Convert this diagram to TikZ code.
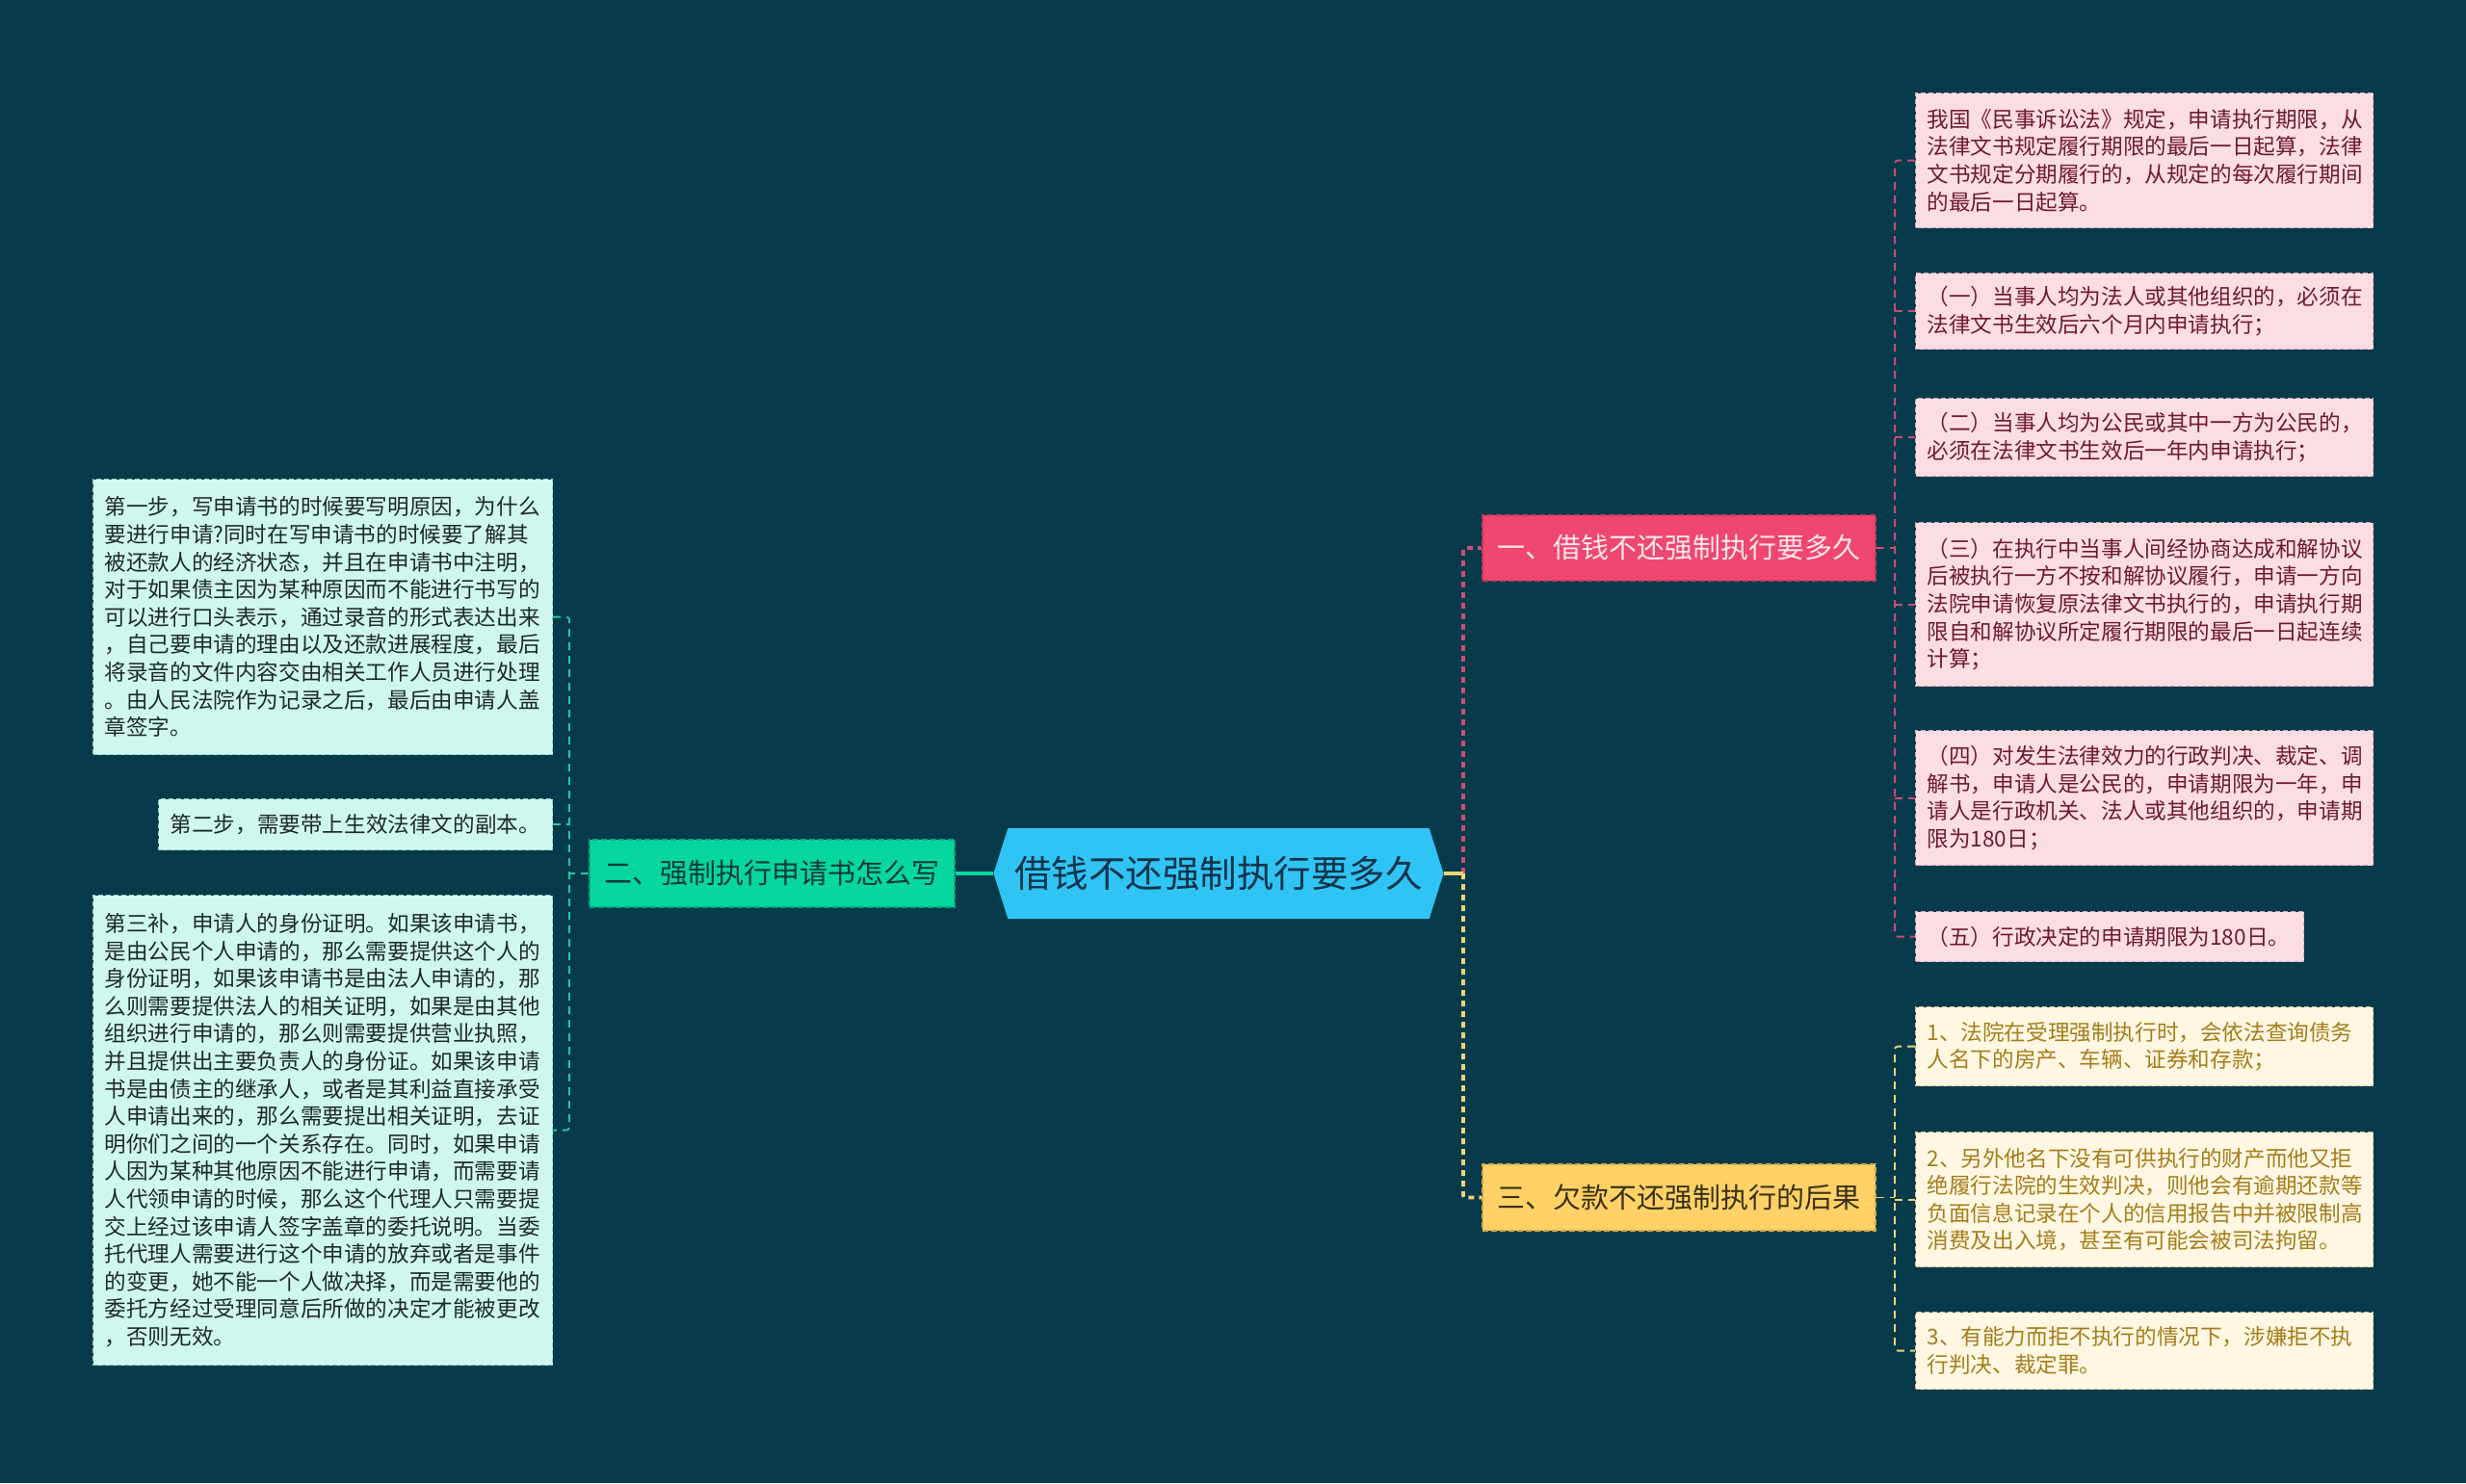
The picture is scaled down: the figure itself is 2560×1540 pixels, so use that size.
\documentclass[tikz,border=0pt]{standalone}
\usepackage{fontspec}
\newfontfamily\cjk{Noto Sans CJK SC}
\usetikzlibrary{shapes.symbols}
\definecolor{bgc}{HTML}{073B4C}
\definecolor{centerfill}{HTML}{30C4F4}
\definecolor{centertext}{HTML}{10344A}
\definecolor{pinkc}{HTML}{EF476F}
\definecolor{pinkline}{HTML}{C73A5E}
\definecolor{pinktext}{HTML}{FDE6EC}
\definecolor{yellowc}{HTML}{FFD166}
\definecolor{yellowline}{HTML}{D6A848}
\definecolor{yellowtext}{HTML}{3A3218}
\definecolor{greenc}{HTML}{06D6A0}
\definecolor{greenline}{HTML}{04A87E}
\definecolor{greentext}{HTML}{0E3A36}
\definecolor{pleaffill}{HTML}{FCDDE4}
\definecolor{pleafline}{HTML}{D9A3B1}
\definecolor{pleaftext}{HTML}{6E1A31}
\definecolor{yleaffill}{HTML}{FFF7E2}
\definecolor{yleafline}{HTML}{D8C08C}
\definecolor{yleaftext}{HTML}{A47D1C}
\definecolor{gleaffill}{HTML}{D0F7EE}
\definecolor{gleafline}{HTML}{8CCFBF}
\definecolor{gleaftext}{HTML}{1C2A2B}
\definecolor{pbus}{HTML}{CF4C76}
\definecolor{ybus}{HTML}{EED477}
\definecolor{gbus}{HTML}{22C8A0}
\tikzset{
  leaf/.style={anchor=north west, inner xsep=12pt, inner ysep=0pt, align=left,
    font=\cjk\fontsize{22.6pt}{28.6pt}\selectfont, dash pattern=on 5pt off 3pt, line width=1.2pt},
  pleaf/.style={leaf, fill=pleaffill, draw=pleafline, text=pleaftext},
  yleaf/.style={leaf, fill=yleaffill, draw=yleafline, text=yleaftext},
  gleaf/.style={leaf, fill=gleaffill, draw=gleafline, text=gleaftext},
  branch/.style={inner sep=0pt, font=\cjk\fontsize{29pt}{34pt}\selectfont,
    dash pattern=on 6pt off 3pt, line width=1.5pt, minimum height=68pt},
  mainbus/.style={line width=3.6pt, dash pattern=on 6pt off 5pt, rounded corners=2pt},
  leafbus/.style={line width=1.8pt, dash pattern=on 8pt off 6pt, rounded corners=3pt},
}
\begin{document}
\begin{tikzpicture}[x=1pt,y=-1pt]
\fill[bgc] (0,0) rectangle (2560,1540);

% central node
\node[signal, signal to=east and west, signal pointer angle=145, fill=centerfill,
  minimum width=467pt, minimum height=94pt, inner sep=0pt, text=centertext,
  font=\cjk\fontsize{38.5pt}{44pt}\selectfont] (c) at (1265,907) {借钱不还强制执行要多久};

% branch nodes
\node[branch, fill=pinkc, draw=pinkline, text=pinktext, minimum width=408pt] (p) at (1743,569) {一、借钱不还强制执行要多久};
\node[branch, fill=yellowc, draw=yellowline, text=yellowtext, minimum width=408pt, minimum height=69pt] (y) at (1743,1243.5) {三、欠款不还强制执行的后果};
\node[branch, fill=greenc, draw=greenline, text=greentext, minimum width=379pt, minimum height=70pt] (g) at (801.5,907) {二、强制执行申请书怎么写};

% right pink leaves
\node[pleaf, minimum width=475pt, minimum height=140pt, text width=451pt] (P1) at (1988,96)
 {我国《民事诉讼法》规定，申请执行期限，从\\法律文书规定履行期限的最后一日起算，法律\\文书规定分期履行的，从规定的每次履行期间\\的最后一日起算。};
\node[pleaf, minimum width=475pt, minimum height=79pt, text width=451pt] (P2) at (1988,283)
 {（一）当事人均为法人或其他组织的，必须在\\法律文书生效后六个月内申请执行；};
\node[pleaf, minimum width=475pt, minimum height=81pt, text width=451pt] (P3) at (1988,413)
 {（二）当事人均为公民或其中一方为公民的，\\必须在法律文书生效后一年内申请执行；};
\node[pleaf, minimum width=475pt, minimum height=170pt, text width=451pt] (P4) at (1988,542)
 {（三）在执行中当事人间经协商达成和解协议\\后被执行一方不按和解协议履行，申请一方向\\法院申请恢复原法律文书执行的，申请执行期\\限自和解协议所定履行期限的最后一日起连续\\计算；};
\node[pleaf, minimum width=475pt, minimum height=140pt, text width=451pt] (P5) at (1988,758)
 {（四）对发生法律效力的行政判决、裁定、调\\解书，申请人是公民的，申请期限为一年，申\\请人是行政机关、法人或其他组织的，申请期\\限为180日；};
\node[pleaf, minimum width=403pt, minimum height=52pt, text width=379pt] (P6) at (1988,946)
 {（五）行政决定的申请期限为180日。};

% right yellow leaves
\node[yleaf, minimum width=475pt, minimum height=82pt, text width=451pt] (Y1) at (1988,1045)
 {1、法院在受理强制执行时，会依法查询债务\\人名下的房产、车辆、证券和存款；};
\node[yleaf, minimum width=475pt, minimum height=140pt, text width=451pt] (Y2) at (1988,1175)
 {2、另外他名下没有可供执行的财产而他又拒\\绝履行法院的生效判决，则他会有逾期还款等\\负面信息记录在个人的信用报告中并被限制高\\消费及出入境，甚至有可能会被司法拘留。};
\node[yleaf, minimum width=475pt, minimum height=80pt, text width=451pt] (Y3) at (1988,1362)
 {3、有能力而拒不执行的情况下，涉嫌拒不执\\行判决、裁定罪。};

% left green leaves
\node[gleaf, minimum width=477pt, minimum height=286pt, text width=453pt] (G1) at (96,497)
 {第一步，写申请书的时候要写明原因，为什么\\要进行申请?同时在写申请书的时候要了解其\\被还款人的经济状态，并且在申请书中注明，\\对于如果债主因为某种原因而不能进行书写的\\可以进行口头表示，通过录音的形式表达出来\\，自己要申请的理由以及还款进展程度，最后\\将录音的文件内容交由相关工作人员进行处理\\。由人民法院作为记录之后，最后由申请人盖\\章签字。};
\node[gleaf, minimum width=409pt, minimum height=53pt, text width=385pt] (G2) at (164,829)
 {第二步，需要带上生效法律文的副本。};
\node[gleaf, minimum width=477pt, minimum height=488pt, text width=453pt] (G3) at (96,929)
 {第三补，申请人的身份证明。如果该申请书，\\是由公民个人申请的，那么需要提供这个人的\\身份证明，如果该申请书是由法人申请的，那\\么则需要提供法人的相关证明，如果是由其他\\组织进行申请的，那么则需要提供营业执照，\\并且提供出主要负责人的身份证。如果该申请\\书是由债主的继承人，或者是其利益直接承受\\人申请出来的，那么需要提出相关证明，去证\\明你们之间的一个关系存在。同时，如果申请\\人因为某种其他原因不能进行申请，而需要请\\人代领申请的时候，那么这个代理人只需要提\\交上经过该申请人签字盖章的委托说明。当委\\托代理人需要进行这个申请的放弃或者是事件\\的变更，她不能一个人做决择，而是需要他的\\委托方经过受理同意后所做的决定才能被更改\\，否则无效。};

% bus coordinates
\coordinate (rm) at (1519,907);
\coordinate (lm) at (591,907);
\coordinate (pb) at (1967,569);
\coordinate (yb) at (1967,1243.5);

% connectors: center
\draw[ybus, mainbus] (rm) |- (y.west);
\draw[pbus, mainbus] (rm) |- (p.west);
\draw[ybus, line width=3.2pt] (c.east) -- (rm);
\draw[greenc, line width=3.2pt] (g.east) -- (c.west);

% left bus
\draw[gbus, leafbus] (g.west) -- (lm);
\draw[gbus, leafbus] (G1.east) -| (lm) |- (G3.east);
\draw[gbus, leafbus] (G2.east) -- (lm |- G2.east);

% pink leaf bus
\draw[pbus, leafbus] (p.east) -- (pb);
\draw[pbus, leafbus] (P1.west) -| (pb) |- (P6.west);
\draw[pbus, leafbus] (pb |- P2.west) -- (P2.west);
\draw[pbus, leafbus] (pb |- P3.west) -- (P3.west);
\draw[pbus, leafbus] (pb |- P4.west) -- (P4.west);
\draw[pbus, leafbus] (pb |- P5.west) -- (P5.west);

% yellow leaf bus
\draw[ybus, leafbus] (y.east) -- (yb);
\draw[ybus, leafbus] (Y1.west) -| (yb) |- (Y3.west);
\draw[ybus, leafbus] (yb |- Y2.west) -- (Y2.west);
\end{tikzpicture}
\end{document}
